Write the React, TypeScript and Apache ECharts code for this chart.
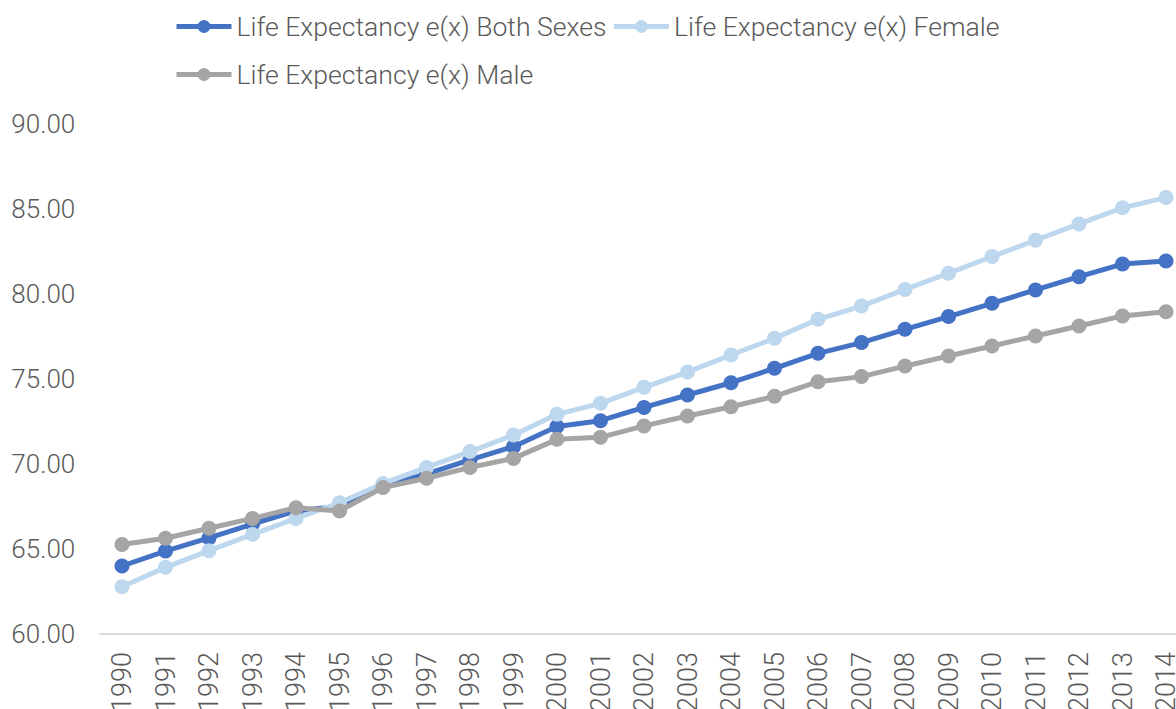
import React, { useEffect, useRef } from "react";
import * as echarts from "echarts";

const years = [
  "1990", "1991", "1992", "1993", "1994", "1995", "1996", "1997", "1998", "1999",
  "2000", "2001", "2002", "2003", "2004", "2005", "2006", "2007", "2008", "2009",
  "2010", "2011", "2012", "2013", "2014",
];

const bothSexes = [
  64.0, 64.88, 65.65, 66.47, 67.25, 67.5, 68.7, 69.42, 70.24, 71.02,
  72.2, 72.55, 73.33, 74.06, 74.78, 75.63, 76.51, 77.14, 77.92, 78.67,
  79.45, 80.24, 81.02, 81.76, 81.94,
];

const female = [
  62.78, 63.92, 64.9, 65.86, 66.8, 67.72, 68.85, 69.8, 70.73, 71.7,
  72.92, 73.57, 74.51, 75.41, 76.41, 77.39, 78.51, 79.29, 80.27, 81.22,
  82.2, 83.16, 84.12, 85.07, 85.67,
];

const male = [
  65.26, 65.63, 66.22, 66.8, 67.43, 67.24, 68.62, 69.16, 69.8, 70.33,
  71.45, 71.57, 72.24, 72.82, 73.37, 73.98, 74.84, 75.14, 75.76, 76.35,
  76.94, 77.53, 78.12, 78.71, 78.96,
];

const seriesNames = [
  "Life Expectancy e(x) Both Sexes",
  "Life Expectancy e(x) Female",
  "Life Expectancy e(x) Male",
];
const seriesColors = ["#4472C4", "#BDD7EE", "#A5A5A5"];

export default function App() {
  const ref = useRef<HTMLDivElement>(null);

  useEffect(() => {
    if (!ref.current) return;
    document.documentElement.style.overflow = "hidden";
    document.body.style.overflow = "hidden";
    const chart = echarts.init(ref.current, undefined, { renderer: "svg" });
    const font = "Roboto, 'Noto Sans', sans-serif";
    const textColor = "#595959";
    const values = [bothSexes, female, male];
    const legendText = {
      color: textColor,
      fontSize: 26.6,
      fontFamily: font,
      fontWeight: 300 as any,
    };
    const legendCommon = {
      left: 174,
      itemWidth: 55,
      itemHeight: 16,
      itemGap: 5,
      padding: 0,
      lineStyle: { width: 5 },
      textStyle: legendText,
    };
    chart.setOption({
      animation: false,
      backgroundColor: "#ffffff",
      legend: [
        { ...legendCommon, data: [seriesNames[0], seriesNames[1]], top: 13 },
        { ...legendCommon, data: [seriesNames[2]], top: 61 },
      ],
      grid: {
        left: 100.25,
        right: 0.25,
        top: 124,
        bottom: 75,
        containLabel: false,
        outerBoundsMode: "none",
      },
      xAxis: {
        type: "category",
        data: years,
        boundaryGap: true,
        axisLine: { show: true, lineStyle: { color: "#D9D9D9", width: 2 } },
        axisTick: { show: false },
        axisLabel: {
          rotate: 90,
          interval: 0,
          margin: 18,
          color: textColor,
          fontSize: 27,
          fontFamily: font,
          fontWeight: 300,
        },
        splitLine: { show: false },
      },
      yAxis: {
        type: "value",
        min: 60,
        max: 90,
        interval: 5,
        axisLine: { show: false },
        axisTick: { show: false },
        splitLine: { show: false },
        axisLabel: {
          margin: 25,
          color: textColor,
          fontSize: 26,
          fontFamily: font,
          fontWeight: 300,
          formatter: (v: number) => v.toFixed(2),
        },
      },
      series: seriesNames.map((name, i) => ({
        name,
        type: "line",
        data: values[i],
        symbol: "circle",
        symbolSize: 15,
        showSymbol: true,
        lineStyle: { width: 5, color: seriesColors[i] },
        itemStyle: { color: seriesColors[i] },
        z: 2 + i,
      })),
    });
    return () => chart.dispose();
  }, []);

  return (
    <div
      ref={ref}
      style={{ position: "fixed", left: 0, top: 0, width: 1188, height: 709 }}
    />
  );
}
